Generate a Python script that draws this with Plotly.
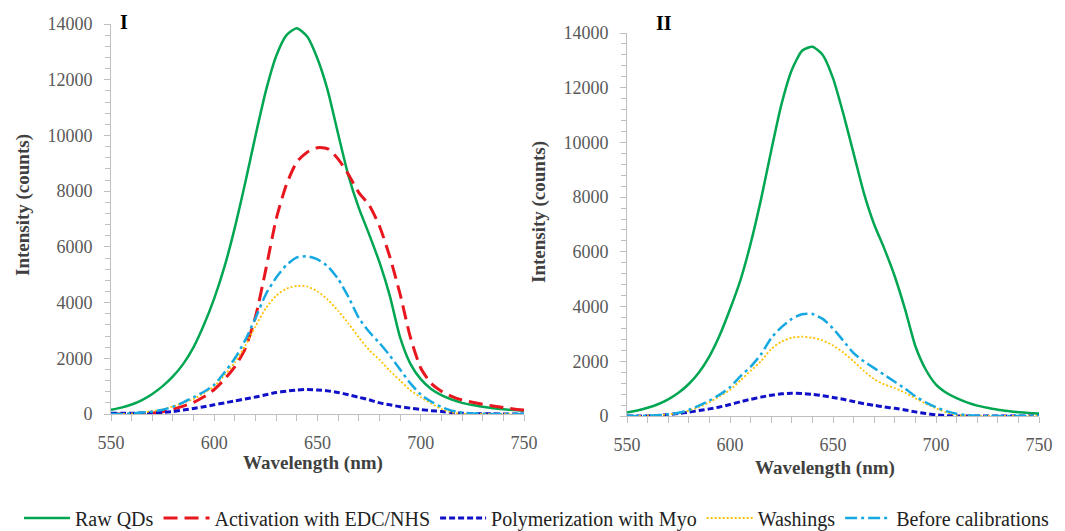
import plotly.graph_objects as go

# ---------------- data ----------------
wavelength = [550, 555, 560, 565, 570, 575, 580, 585, 590, 595, 600, 605, 610, 615, 620,
              625, 630, 635, 640, 645, 650, 655, 660, 665, 670, 675, 680, 685, 690, 695,
              700, 705, 710, 715, 720, 725, 730, 735, 740, 745, 750]

# Panel I
raw_qds_I = [150, 230, 340, 500, 720, 1000, 1350, 1800, 2400, 3200, 4150, 5300, 6700, 8300, 10000,
             11600, 12850, 13600, 13850, 13550, 12750, 11600, 10050, 8550, 7400, 6450, 5450, 4250, 2750, 1800,
             1250, 900, 680, 520, 400, 320, 260, 210, 170, 140, 120]
activation_I = [0, 0, 0, 10, 30, 80, 170, 280, 420, 620, 880, 1250, 1700, 2350, 3500,
                5200, 7000, 8250, 9050, 9400, 9560, 9520, 9150, 8600, 7950, 7500, 6750, 5650, 4300, 2750,
                1650, 1100, 820, 630, 500, 420, 350, 290, 230, 180, 140]
polymerization_I = [30, 30, 30, 35, 45, 60, 90, 140, 200, 260, 330, 400, 470, 540, 610,
                    690, 770, 820, 860, 880, 860, 830, 770, 690, 600, 510, 400, 330, 260, 210,
                    160, 120, 90, 55, 30, 15, 10, 5, 0, 0, 0]
washings_I = [0, 0, 20, 50, 100, 170, 270, 390, 540, 750, 1000, 1400, 1850, 2450, 3150,
              3800, 4250, 4500, 4600, 4580, 4400, 4100, 3700, 3250, 2750, 2300, 1950, 1550, 1200, 850,
              600, 380, 180, 60, 10, 0, 0, 0, 0, 0, 0]
before_cal_I = [0, 0, 20, 50, 90, 150, 260, 420, 600, 800, 1050, 1500, 2000, 2650, 3450,
                4300, 4900, 5350, 5620, 5660, 5550, 5300, 4850, 4200, 3450, 2950, 2550, 2100, 1600, 1100,
                700, 450, 250, 120, 50, 20, 10, 0, 0, 0, 0]

# Panel II
raw_qds_II = [130, 200, 300, 430, 610, 850, 1170, 1600, 2180, 2950, 3900, 4950, 6300, 7900, 9700,
              11400, 12650, 13350, 13500, 13200, 12350, 11050, 9600, 8150, 7000, 6100, 5100, 3900, 2550, 1700,
              1150, 850, 650, 500, 380, 300, 230, 180, 140, 110, 90]
polymerization_II = [0, 0, 0, 20, 50, 90, 140, 200, 260, 330, 420, 520, 610, 690, 760,
                     810, 830, 820, 790, 740, 680, 610, 530, 450, 390, 330, 280, 220, 150, 90,
                     40, 15, 0, 0, 0, 0, 0, 0, 0, 0, 0]
washings_II = [0, 0, 10, 30, 60, 110, 200, 330, 500, 720, 950, 1300, 1650, 2000, 2450,
               2720, 2860, 2900, 2860, 2760, 2580, 2320, 2000, 1650, 1350, 1150, 1020, 850, 650, 450,
               280, 130, 40, 10, 0, 0, 0, 0, 0, 0, 0]
before_cal_II = [0, 0, 10, 30, 60, 120, 220, 380, 560, 780, 1050, 1450, 1800, 2250, 2850,
                 3250, 3550, 3720, 3730, 3550, 3200, 2750, 2300, 2000, 1750, 1500, 1250, 1000, 720, 500,
                 320, 180, 80, 30, 10, 0, 0, 0, 0, 0, 0]

series_names = ["Raw QDs", "Activation with EDC/NHS", "Polymerization with Myo",
                "Washings", "Before calibrations"]
x_ticks = [550, 600, 650, 700, 750]
y_ticks = [0, 2000, 4000, 6000, 8000, 10000, 12000, 14000]

# ---------------- styles ----------------
styles = {
    "Raw QDs": dict(color="#00A651", width=2.5, dash="solid"),
    "Activation with EDC/NHS": dict(color="#E8161E", width=3, dash="14px,7px"),
    "Polymerization with Myo": dict(color="#1010C8", width=3, dash="6px,3px"),
    "Washings": dict(color="#FFC000", width=1.8, dash="2px,2px"),
    "Before calibrations": dict(color="#16A9E1", width=2.5, dash="12px,4px,3px,4px"),
}

fig = go.Figure()

panel_I = [raw_qds_I, activation_I, polymerization_I, washings_I, before_cal_I]
for name, ys in zip(series_names, panel_I):
    fig.add_trace(go.Scatter(x=wavelength, y=ys, mode="lines", name=name,
                             line=dict(shape="spline", smoothing=0.6, **styles[name]),
                             xaxis="x", yaxis="y", legendgroup=name, showlegend=True))

panel_II = {"Raw QDs": raw_qds_II, "Polymerization with Myo": polymerization_II,
            "Washings": washings_II, "Before calibrations": before_cal_II}
for name, ys in panel_II.items():
    fig.add_trace(go.Scatter(x=wavelength, y=ys, mode="lines", name=name,
                             line=dict(shape="spline", smoothing=0.6, **styles[name]),
                             xaxis="x2", yaxis="y2", legendgroup=name, showlegend=False))

# The page body keeps its default 8px margin, so the figure is 8px smaller
# and all positions below are given in window pixels minus that offset.
OFF = 8
W, H = 1065 - OFF, 531 - OFF
serif = "Liberation Serif, Times New Roman, serif"
tick_font = dict(family=serif, size=18, color="#595959")
axis_col = "#BFBFBF"

def xax(domain, anchor):
    return dict(domain=domain, anchor=anchor, range=[550, 750],
                tickvals=x_ticks, ticktext=[str(v) for v in x_ticks],
                showgrid=False, zeroline=False, showline=True, linecolor=axis_col, linewidth=1,
                ticks="outside", ticklen=6, tickcolor=axis_col, tickfont=tick_font,
                ticklabelstandoff=6, automargin=False,
                minor=dict(dtick=10, tick0=550, ticks="outside", ticklen=6, tickcolor=axis_col))

def yax(domain, anchor):
    return dict(domain=domain, anchor=anchor, range=[0, 14000],
                tickvals=y_ticks, ticktext=[str(v) for v in y_ticks],
                showgrid=False, zeroline=False, showline=True, linecolor=axis_col, linewidth=1,
                ticks="outside", ticklen=6, tickcolor=axis_col, tickfont=tick_font,
                ticklabelstandoff=8, automargin=False,
                minor=dict(dtick=400, tick0=0, ticks="outside", ticklen=5, tickcolor=axis_col))

def px_x(p):
    return (p - OFF) / W

def px_y(p):
    return 1 - (p - OFF) / H

fig.update_layout(
    width=W, height=H,
    margin=dict(l=0, r=0, t=0, b=0, autoexpand=False),
    paper_bgcolor="white", plot_bgcolor="white",
    xaxis=xax([px_x(111), px_x(524)], "y"),
    yaxis=yax([px_y(414), px_y(24)], "x"),
    xaxis2=xax([px_x(627), px_x(1039)], "y2"),
    yaxis2=yax([px_y(416), px_y(33)], "x2"),
    legend=dict(orientation="h", x=px_x(537), xanchor="center", y=px_y(518), yanchor="middle",
                font=dict(family=serif, size=20, color="#222222"),
                bgcolor="rgba(0,0,0,0)", itemwidth=46, tracegroupgap=0),
    showlegend=True,
)

title_font = dict(family=serif, size=19, color="#404040")
annotations = [
    dict(text="<b>Intensity (counts)</b>", x=px_x(23), y=px_y(205), xref="paper", yref="paper",
         textangle=-90, showarrow=False, font=title_font, xanchor="center", yanchor="middle"),
    dict(text="<b>Intensity (counts)</b>", x=px_x(539), y=px_y(212), xref="paper", yref="paper",
         textangle=-90, showarrow=False, font=title_font, xanchor="center", yanchor="middle"),
    dict(text="<b>Wavelength (nm)</b>", x=px_x(313), y=px_y(463), xref="paper", yref="paper",
         showarrow=False, font=title_font, xanchor="center", yanchor="middle"),
    dict(text="<b>Wavelength (nm)</b>", x=px_x(825), y=px_y(468), xref="paper", yref="paper",
         showarrow=False, font=title_font, xanchor="center", yanchor="middle"),
    dict(text="<b>I</b>", x=px_x(124), y=px_y(22), xref="paper", yref="paper",
         showarrow=False, font=dict(family=serif, size=20, color="black"),
         xanchor="center", yanchor="middle"),
    dict(text="<b>II</b>", x=px_x(664), y=px_y(23), xref="paper", yref="paper",
         showarrow=False, font=dict(family=serif, size=20, color="black"),
         xanchor="center", yanchor="middle"),
]
fig.update_layout(annotations=annotations)

fig.write_html("out.html")
